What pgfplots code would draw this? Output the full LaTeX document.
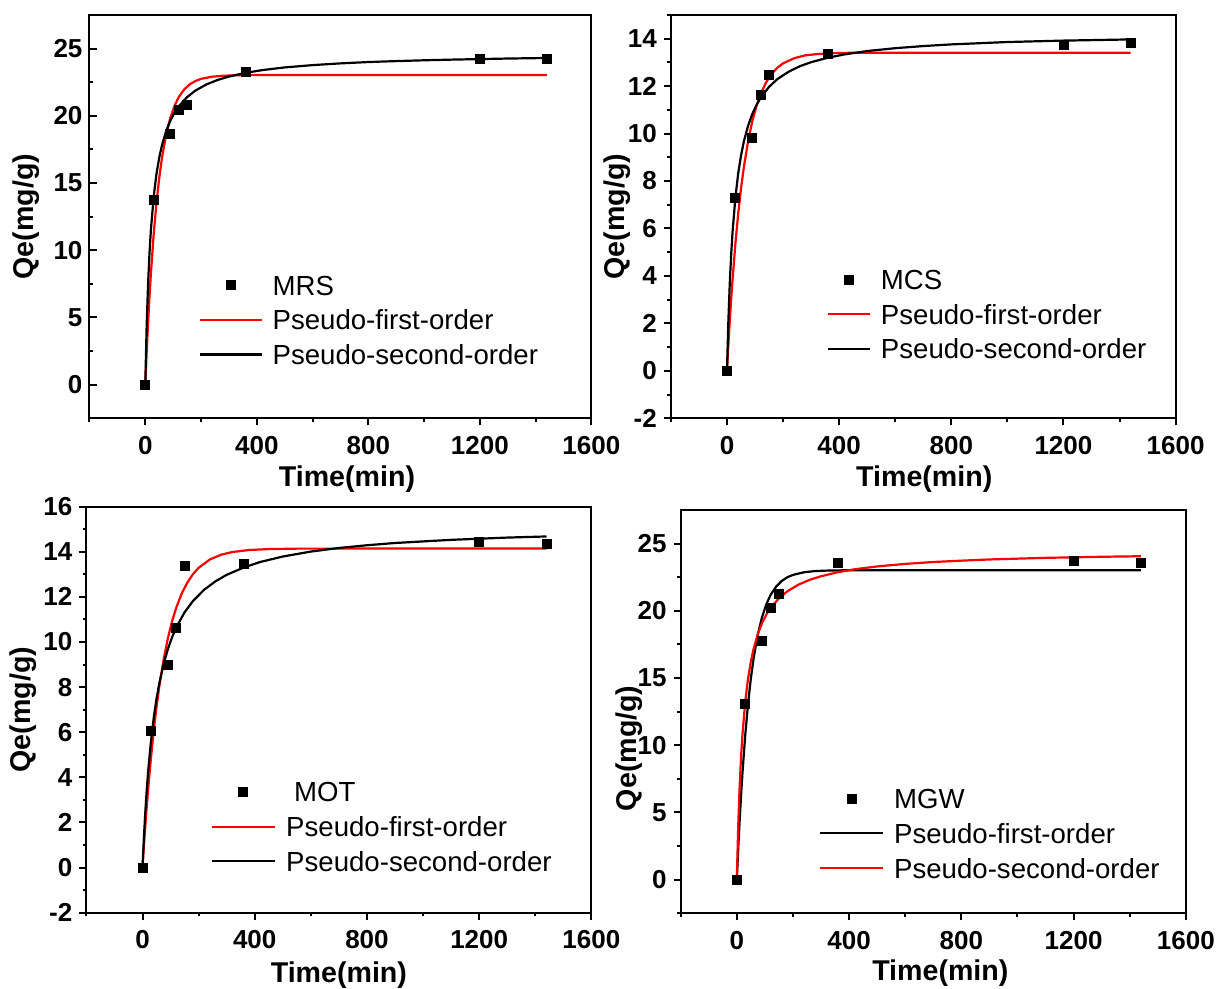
\documentclass[border=0pt]{standalone}
\usepackage{fontspec}
\setmainfont{Liberation Sans}
\usepackage{pgfplots}
\pgfplotsset{compat=1.18}
\pgfplotsset{
  lineleg/.style={legend image code/.code={\draw[##1] (0pt,0pt) -- (#1,0pt);}},
  markleg/.style={legend image code/.code={\draw[mark repeat=2,mark phase=2,##1] plot coordinates {(0pt,0pt) ({0.5*#1},0pt) (#1,0pt)};}},
  panel/.style={
    scale only axis,
    xmin=-200, xmax=1600,
    xtick={0,400,800,1200,1600},
    xticklabels={0,400,800,1200,1600},
    minor xtick={-200,200,600,1000,1400},
    axis line style={line width=1pt},
    every tick/.style={line width=1pt,black},
    major tick length=3.5pt, minor tick length=1.75pt,
    xtick pos=bottom, ytick pos=left,
    tick align=outside,
    tick label style={font=\fontsize{13}{15}\selectfont\bfseries},
    xticklabel style={yshift=-2pt},
    label style={font=\fontsize{14.3}{17}\selectfont\bfseries},
    xlabel={Time(min)}, ylabel={Qe(mg/g)},
    /pgf/number format/assume math mode=true,
    legend cell align=left,
    legend style={draw=none, fill=none, font=\fontsize{13.8}{16}\selectfont,
      inner sep=0pt, column sep=5pt, row sep=7.35pt,
      nodes={inner sep=0pt, text height=10pt, text depth=0pt}},
  },
  pts/.style={only marks, mark=square*, mark size=2.25pt, black},
  fitline/.style={line width=1.1pt, no marks},
}
\begin{document}
\begin{tikzpicture}
\path[use as bounding box] (0pt,0pt) rectangle (608.5pt,494.5pt);

% ---------- Panel 1: MRS ----------
\begin{axis}[panel, at={(44.75pt,285.35pt)}, anchor=south west,
  width=250.95pt, height=201.65pt,
  ymin=-2.5, ymax=27.5,
  ytick align=inside,
  ytick={0,5,10,15,20,25}, yticklabels={0,5,10,15,20,25},
  minor ytick={-2.5,2.5,7.5,12.5,17.5,22.5},
  xlabel style={at={(axis description cs:0.513,-0.1513)}, anchor=center},
  ylabel style={at={(axis description cs:-0.1255,0.5)}, anchor=center},
  legend style={at={(axis description cs:0.217,0.356)}, anchor=north west},
]
\addplot[pts, markleg=30.8pt] coordinates {(0,0) (30,13.71) (90,18.69) (120,20.47) (150,20.84) (360,23.27) (1200,24.26) (1440,24.26)};
\addlegendentry{MRS}
\addplot[fitline, red, lineleg=30.8pt] coordinates {(0,0) (5,2.40) (10,4.55) (15,6.47) (20,8.20) (30,11.13) (40,13.48) (50,15.36) (60,16.88) (75,18.61) (90,19.85) (105,20.74) (120,21.39) (140,21.97) (160,22.35) (180,22.59) (200,22.75) (240,22.91) (280,22.98) (320,23.01) (400,23.03) (1440,23.03)};
\addlegendentry{Pseudo-first-order}
\addplot[fitline, black, lineleg=30.8pt] coordinates {(0,0) (5,4.39) (10,7.46) (15,9.72) (20,11.45) (30,13.94) (40,15.65) (50,16.88) (60,17.82) (75,18.87) (90,19.64) (105,20.24) (120,20.70) (150,21.39) (180,21.88) (220,22.34) (260,22.67) (300,22.92) (360,23.20) (420,23.40) (500,23.60) (600,23.77) (700,23.90) (800,24.00) (900,24.07) (1000,24.13) (1100,24.18) (1200,24.22) (1300,24.26) (1440,24.30)};
\addlegendentry{Pseudo-second-order}
\end{axis}

% ---------- Panel 2: MCS ----------
\begin{axis}[panel, at={(335.45pt,285.35pt)}, anchor=south west,
  width=252.35pt, height=201.65pt,
  ymin=-2, ymax=15,
  ytick={-2,0,2,4,6,8,10,12,14}, yticklabels={-2,0,2,4,6,8,10,12,14},
  minor ytick={-1,1,3,5,7,9,11,13,15},
  xlabel style={at={(axis description cs:0.502,-0.1513)}, anchor=center},
  ylabel style={at={(axis description cs:-0.107,0.5)}, anchor=center},
  legend style={at={(axis description cs:0.308,0.370)}, anchor=north west},
]
\addplot[pts, markleg=21pt] coordinates {(0,0) (30,7.29) (90,9.82) (120,11.62) (150,12.47) (360,13.38) (1200,13.73) (1440,13.83)};
\addlegendentry{MCS}
\addplot[fitline, red, lineleg=21pt] coordinates {(0,0) (5,1.09) (10,2.10) (15,3.02) (20,3.86) (30,5.36) (40,6.62) (50,7.68) (60,8.57) (75,9.66) (90,10.51) (105,11.16) (120,11.67) (140,12.17) (160,12.53) (180,12.78) (200,12.96) (240,13.18) (280,13.30) (320,13.35) (380,13.39) (450,13.41) (1440,13.41)};
\addlegendentry{Pseudo-first-order}
\addplot[fitline, black, lineleg=21pt] coordinates {(0,0) (5,2.12) (10,3.70) (15,4.91) (20,5.87) (30,7.30) (40,8.32) (50,9.07) (60,9.66) (75,10.32) (90,10.82) (105,11.20) (120,11.51) (150,11.97) (180,12.30) (220,12.61) (260,12.84) (300,13.01) (360,13.20) (420,13.34) (500,13.48) (600,13.60) (700,13.69) (800,13.76) (900,13.81) (1000,13.86) (1100,13.89) (1200,13.92) (1300,13.94) (1440,13.97)};
\addlegendentry{Pseudo-second-order}
\end{axis}

% ---------- Panel 3: MOT ----------
\begin{axis}[panel, at={(43.2pt,38.15pt)}, anchor=south west,
  width=252.5pt, height=203pt,
  ymin=-2, ymax=16,
  ytick={-2,0,2,4,6,8,10,12,14,16}, yticklabels={-2,0,2,4,6,8,10,12,14,16},
  minor ytick={-1,1,3,5,7,9,11,13,15},
  xlabel style={at={(axis description cs:0.5,-0.1527)}, anchor=center},
  ylabel style={at={(axis description cs:-0.1248,0.5)}, anchor=center},
  legend style={at={(axis description cs:0.245,0.323)}, anchor=north west},
]
\addplot[pts, markleg=31.75pt] coordinates {(0,0) (30,6.08) (90,8.97) (120,10.62) (150,13.39) (360,13.47) (1200,14.44) (1440,14.37)};
\addlegendentry{\hspace{4pt}MOT}
\addplot[fitline, red, lineleg=31.75pt] coordinates {(0,0) (5,0.96) (10,1.85) (15,2.68) (20,3.46) (30,4.85) (40,6.07) (50,7.12) (60,8.04) (75,9.20) (90,10.14) (105,10.90) (120,11.51) (140,12.16) (160,12.64) (180,13.01) (200,13.29) (240,13.66) (280,13.87) (320,13.99) (380,14.08) (450,14.12) (550,14.14) (1440,14.15)};
\addlegendentry{Pseudo-first-order}
\addplot[fitline, black, lineleg=31.75pt] coordinates {(0,0) (5,1.34) (10,2.47) (15,3.43) (20,4.25) (30,5.59) (40,6.64) (50,7.49) (60,8.18) (75,9.01) (90,9.67) (105,10.20) (120,10.64) (150,11.32) (180,11.82) (220,12.32) (260,12.69) (300,12.98) (360,13.30) (420,13.55) (500,13.79) (600,14.01) (700,14.17) (800,14.29) (900,14.39) (1000,14.46) (1100,14.53) (1200,14.58) (1300,14.63) (1440,14.68)};
\addlegendentry{Pseudo-second-order}
\end{axis}

% ---------- Panel 4: MGW ----------
\begin{axis}[panel, at={(340.35pt,37.85pt)}, anchor=south west,
  width=252.55pt, height=201.65pt,
  ymin=-2.5, ymax=27.5,
  ytick={0,5,10,15,20,25}, yticklabels={0,5,10,15,20,25},
  minor ytick={-2.5,2.5,7.5,12.5,17.5,22.5},
  xlabel style={at={(axis description cs:0.514,-0.1488)}, anchor=center},
  ylabel style={at={(axis description cs:-0.103,0.409)}, anchor=center},
  legend style={at={(axis description cs:0.273,0.310)}, anchor=north west},
]
\addplot[pts, markleg=31.5pt] coordinates {(0,-0.05) (30,13.10) (90,17.76) (120,20.24) (150,21.28) (360,23.59) (1200,23.69) (1440,23.59)};
\addlegendentry{MGW}
\addplot[fitline, black, lineleg=31.5pt] coordinates {(0,0) (5,2.30) (10,4.36) (15,6.22) (20,7.90) (30,10.76) (40,13.08) (50,14.97) (60,16.49) (75,18.26) (90,19.54) (105,20.48) (120,21.17) (140,21.80) (160,22.22) (180,22.50) (200,22.67) (240,22.87) (280,22.96) (320,22.99) (400,23.02) (1440,23.02)};
\addlegendentry{Pseudo-first-order}
\addplot[fitline, red, lineleg=31.5pt] coordinates {(0,0) (5,4.02) (10,6.90) (15,9.08) (20,10.77) (30,13.24) (40,14.96) (50,16.22) (60,17.19) (75,18.28) (90,19.09) (105,19.71) (120,20.20) (150,20.93) (180,21.45) (220,21.95) (260,22.31) (300,22.57) (360,22.87) (420,23.09) (500,23.30) (600,23.49) (700,23.63) (800,23.73) (900,23.82) (1000,23.88) (1100,23.94) (1200,23.98) (1300,24.02) (1440,24.06)};
\addlegendentry{Pseudo-second-order}
\end{axis}
\end{tikzpicture}
\end{document}
